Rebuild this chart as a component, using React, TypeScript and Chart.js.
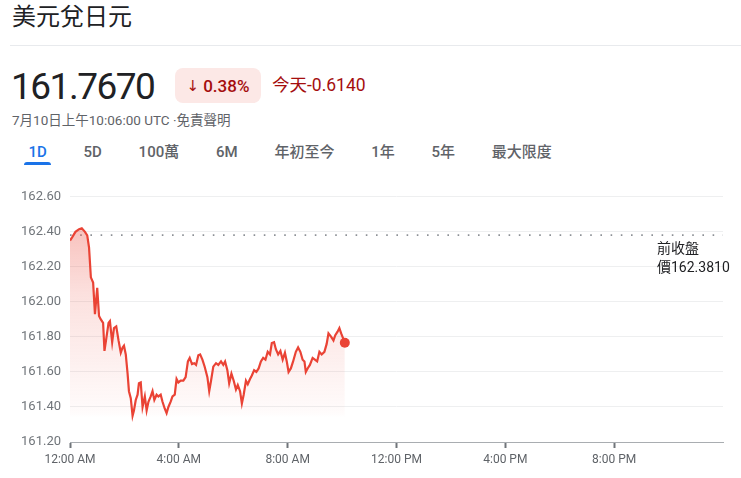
import React, { useEffect, useRef } from "react";
import { Chart, registerables } from "chart.js";
Chart.register(...registerables);

// minutes since midnight (UTC)
const TIMES = [
  0, 5, 12, 20, 26, 33, 38, 42, 46, 51,
  55, 60, 64, 68, 73, 76, 80, 85, 88, 93,
  97, 102, 107, 112, 116, 119, 123, 127, 130, 134,
  138, 141, 145, 149, 152, 156, 160, 165, 169, 173,
  178, 182, 186, 191, 195, 200, 204, 209, 213, 217,
  222, 226, 231, 235, 239, 244, 250, 255, 260, 264,
  269, 274, 278, 283, 287, 292, 297, 303, 307, 311,
  316, 322, 327, 333, 338, 342, 347, 351, 356, 361,
  366, 370, 375, 379, 383, 388, 392, 397, 401, 406,
  411, 416, 421, 426, 431, 436, 441, 445, 450, 454,
  459, 464, 469, 474, 478, 482, 487, 492, 498, 503,
  508, 513, 517, 520, 524, 529, 535, 540, 545, 550,
  555, 561, 566, 570, 576, 581, 585, 590, 594, 598,
  606,
];
const PRICES = [
  162.35, 162.37, 162.40, 162.415, 162.42, 162.40, 162.38, 162.31, 162.14, 162.11,
  161.93, 162.08, 161.92, 161.90, 161.88, 161.72, 161.79, 161.88, 161.89, 161.77,
  161.85, 161.86, 161.78, 161.71, 161.74, 161.75, 161.70, 161.59, 161.49, 161.45,
  161.35, 161.38, 161.44, 161.47, 161.535, 161.54, 161.40, 161.46, 161.38, 161.43,
  161.46, 161.49, 161.44, 161.47, 161.46, 161.47, 161.43, 161.39, 161.365, 161.40,
  161.43, 161.46, 161.47, 161.56, 161.54, 161.55, 161.55, 161.57, 161.66, 161.68,
  161.645, 161.65, 161.64, 161.695, 161.70, 161.67, 161.63, 161.57, 161.49, 161.55,
  161.63, 161.65, 161.64, 161.66, 161.64, 161.66, 161.61, 161.535, 161.59, 161.55,
  161.50, 161.525, 161.49, 161.42, 161.47, 161.55, 161.53, 161.56, 161.58, 161.61,
  161.60, 161.62, 161.66, 161.68, 161.67, 161.715, 161.70, 161.765, 161.77, 161.73,
  161.70, 161.72, 161.67, 161.71, 161.66, 161.60, 161.62, 161.66, 161.715, 161.74,
  161.715, 161.67, 161.66, 161.60, 161.62, 161.64, 161.68, 161.67, 161.66, 161.715,
  161.70, 161.715, 161.76, 161.82, 161.80, 161.78, 161.81, 161.83, 161.85, 161.82,
  161.767,
];
const PREV_CLOSE = 162.381;
const X_TICKS = [0, 240, 480, 720, 960, 1200];
const X_LABELS = ["12:00 AM", "4:00 AM", "8:00 AM", "12:00 PM", "4:00 PM", "8:00 PM"];
const X_MAX = 1440;
const Y_TICKS = [161.2, 161.4, 161.6, 161.8, 162.0, 162.2, 162.4, 162.6];
const TABS = ["1D", "5D", "100萬", "6M", "年初至今", "1年", "5年", "最大限度"];

const FONT = "Roboto, 'Noto Sans CJK TC', sans-serif";
const RED = "#ea4335";

function PriceChart() {
  const ref = useRef<HTMLCanvasElement | null>(null);
  useEffect(() => {
    if (!ref.current) return;
    const points = TIMES.map((t, i) => ({ x: t, y: PRICES[i] }));
    const last = points.length - 1;
    const chart = new Chart(ref.current, {
      type: "line",
      data: {
        datasets: [
          {
            data: points,
            borderColor: RED,
            borderWidth: 2.2,
            pointRadius: (c: any) => (c.dataIndex === last ? 5 : 0),
            pointBackgroundColor: RED,
            pointBorderWidth: 0,
            pointHoverRadius: 0,
            tension: 0,
            fill: "start",
            order: 1,
            backgroundColor: (c: any) => {
              const area = c.chart.chartArea;
              if (!area) return "rgba(0,0,0,0)";
              const g = c.chart.ctx.createLinearGradient(0, area.top, 0, area.bottom);
              g.addColorStop(0, "rgba(234,67,53,0.40)");
              g.addColorStop(0.4, "rgba(234,67,53,0.16)");
              g.addColorStop(0.88, "rgba(234,67,53,0.02)");
              g.addColorStop(0.9, "rgba(234,67,53,0)");
              g.addColorStop(1, "rgba(234,67,53,0)");
              return g;
            },
          } as any,
          {
            data: [
              { x: 0, y: PREV_CLOSE },
              { x: X_MAX, y: PREV_CLOSE },
            ],
            borderColor: "#8d9196",
            borderWidth: 1.6,
            borderDash: [1.6, 8.6],
            pointRadius: 0,
            fill: false,
            order: 2,
          } as any,
        ],
      },
      options: {
        animation: false,
        responsive: false,
        maintainAspectRatio: false,
        layout: { padding: { left: 0, right: 18, top: 16, bottom: 0 } },
        plugins: { legend: { display: false }, tooltip: { enabled: false } },
        scales: {
          x: {
            type: "linear",
            min: 0,
            max: X_MAX,
            afterBuildTicks: (s: any) => {
              s.ticks = X_TICKS.map((v) => ({ value: v }));
            },
            afterFit: (s: any) => {
              s.height = 36;
            },
            ticks: {
              autoSkip: false,
              maxRotation: 0,
              padding: 5,
              color: "#5f6368",
              font: { family: FONT, size: 12 },
              callback: (v: any) => X_LABELS[X_TICKS.indexOf(Number(v))] ?? "",
            },
            grid: {
              drawOnChartArea: false,
              drawTicks: true,
              tickLength: 6,
              tickColor: "#70757a",
              tickWidth: 2,
            },
            border: { color: "#a9adb1", width: 1 },
          },
          y: {
            min: Y_TICKS[0],
            max: Y_TICKS[Y_TICKS.length - 1],
            afterBuildTicks: (s: any) => {
              s.ticks = Y_TICKS.map((v) => ({ value: v }));
            },
            afterFit: (s: any) => {
              s.width = 70;
            },
            ticks: {
              padding: 9,
              color: "#70757a",
              font: { family: FONT, size: 13 },
              callback: (v: any) => Number(v).toFixed(2),
            },
            grid: { color: "#eeeff0", drawTicks: false, lineWidth: 1 },
            border: { display: false },
          },
        },
      } as any,
    });
    return () => chart.destroy();
  }, []);
  return (
    <canvas
      ref={ref}
      width={741}
      height={298}
      style={{ position: "absolute", left: 0, top: 180, width: 741, height: 298 }}
    />
  );
}

export default function App() {
  return (
    <div
      style={{
        position: "absolute",
        left: 0,
        top: 0,
        width: 741,
        height: 478,
        background: "#fff",
        fontFamily: FONT,
        overflow: "hidden",
      }}
    >
      <div style={{ position: "absolute", left: 12, top: 0, fontSize: 24, lineHeight: "35px", color: "#202124" }}>
        美元兌日元
      </div>
      <div style={{ position: "absolute", left: 10, right: 0, top: 45, height: 1, background: "#e8eaed" }} />
      <div
        style={{
          position: "absolute",
          left: 11,
          top: 68,
          fontSize: 37,
          lineHeight: "37px",
          letterSpacing: "-1.5px",
          color: "#202124",
        }}
      >
        161.7670
      </div>
      <div
        style={{
          position: "absolute",
          left: 175,
          top: 68,
          width: 86,
          height: 35,
          borderRadius: 8,
          background: "#fce8e6",
          color: "#a50e0e",
          display: "flex",
          alignItems: "center",
          justifyContent: "center",
          fontSize: 17,
          fontWeight: 500,
        }}
      >
        <span style={{ marginRight: 4, fontWeight: 400, fontSize: 15, fontFamily: "'DejaVu Sans', sans-serif" }}>↓</span>
        0.38%
      </div>
      <div style={{ position: "absolute", left: 272, top: 74, fontSize: 17.5, lineHeight: "22px", color: "#a50e0e" }}>
        今天-0.6140
      </div>
      <div style={{ position: "absolute", left: 12, top: 111, fontSize: 13.5, lineHeight: "18px", color: "#5f6368" }}>
        7月10日上午10:06:00 UTC ·免責聲明
      </div>
      <div style={{ position: "absolute", left: 10, top: 142, display: "flex" }}>
        {TABS.map((t, i) => (
          <div
            key={t}
            style={{
              position: "relative",
              padding: "0 18.4px",
              fontSize: 15,
              lineHeight: "20px",
              fontWeight: 500,
              color: i === 0 ? "#1a73e8" : "#5f6368",
            }}
          >
            {t}
            {i === 0 && (
              <div
                style={{
                  position: "absolute",
                  left: 14,
                  right: 14,
                  top: 20,
                  height: 3,
                  borderRadius: "3px 3px 0 0",
                  background: "#1a73e8",
                }}
              />
            )}
          </div>
        ))}
      </div>
      <PriceChart />
      <div
        style={{
          position: "absolute",
          left: 657,
          top: 239,
          fontSize: 14,
          lineHeight: "19px",
          color: "#202124",
        }}
      >
        前收盤
        <br />
        價162.3810
      </div>
    </div>
  );
}
